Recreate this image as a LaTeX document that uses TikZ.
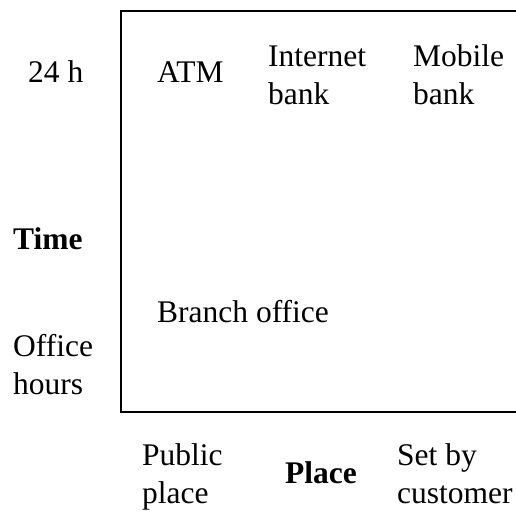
\documentclass[tikz,border=0pt]{standalone}
\usepackage{fontspec}
\setmainfont{Liberation Serif}
\begin{document}
\begin{tikzpicture}[x=1pt,y=1pt,
  lbl/.style={anchor=base west,inner sep=0pt,align=left,font=\fontsize{31.5}{38}\selectfont},
  blbl/.style={lbl,font=\fontsize{31.5}{38}\selectfont\bfseries},
  frame/.style={line width=2pt,line join=miter}]
\useasboundingbox (0,0) rectangle (516,511);
\draw[frame] (517,500) -- (121,500) -- (121,99) -- (517,99);
\node[lbl] (h24) at (28,428) {24 h};
\node[lbl] (atm) at (157,428) {ATM};
\node[lbl] (inet) at (268,406) {Internet\\bank};
\node[lbl] (mob) at (413,406) {Mobile\\bank};
\node[blbl] (time) at (13,261) {Time};
\node[lbl] (branch) at (157,188) {Branch office};
\node[lbl] (office) at (13,116) {Office\\hours};
\node[lbl] (public) at (142,8) {Public\\place};
\node[blbl] (place) at (285,28) {Place};
\node[lbl] (setby) at (397,8) {Set by\\customer};
\end{tikzpicture}
\end{document}
